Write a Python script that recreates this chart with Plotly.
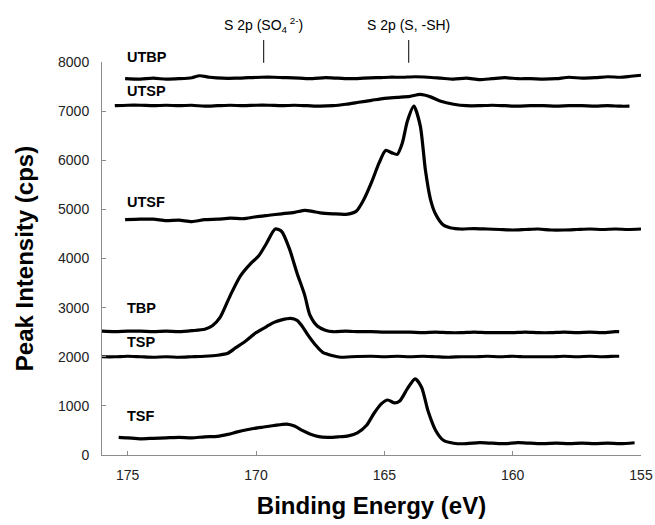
import plotly.graph_objects as go

# ---------------- data ----------------
utbp_x = [175.1, 174.5, 174.0, 173.5, 173.0, 172.5, 172.2, 171.8, 171.3, 170.8, 170.3, 169.8,
          169.3, 168.8, 168.3, 167.8, 167.3, 166.8, 166.3, 165.8, 165.3, 164.8, 164.3, 163.8,
          163.3, 162.8, 162.3, 161.8, 161.3, 160.8, 160.3, 159.8, 159.3, 158.8, 158.3, 157.8,
          157.3, 156.8, 156.3, 155.8, 155.4, 155.0]
utbp_y = [7660, 7650, 7670, 7650, 7660, 7680, 7720, 7690, 7670, 7670, 7680, 7690,
          7690, 7680, 7670, 7660, 7680, 7670, 7660, 7670, 7680, 7690, 7690, 7700,
          7690, 7670, 7650, 7670, 7640, 7660, 7680, 7660, 7660, 7650, 7660, 7690,
          7670, 7680, 7700, 7690, 7710, 7730]

utsp_x = [175.5, 175.0, 174.5, 174.0, 173.5, 173.0, 172.5, 172.0, 171.5, 171.0, 170.5, 170.0,
          169.5, 169.0, 168.5, 168.0, 167.5, 167.0, 166.5, 166.0, 165.5, 165.0, 164.5, 164.0,
          163.6, 163.2, 162.8, 162.3, 161.8, 161.3, 160.8, 160.3, 159.8, 159.3, 158.8, 158.3,
          157.8, 157.3, 156.8, 156.3, 155.8, 155.45]
utsp_y = [7110, 7120, 7120, 7110, 7120, 7110, 7120, 7100, 7110, 7120, 7110, 7120,
          7120, 7110, 7120, 7110, 7100, 7110, 7140, 7180, 7220, 7260, 7280, 7300,
          7340, 7290, 7200, 7140, 7110, 7110, 7120, 7110, 7100, 7110, 7110, 7100,
          7110, 7110, 7100, 7110, 7100, 7100]

utsf_x = [175.1, 174.5, 174.0, 173.5, 173.0, 172.5, 172.0, 171.5, 171.0, 170.5, 170.0, 169.5,
          169.0, 168.5, 168.1, 167.8, 167.5, 167.0, 166.5, 166.1, 165.8, 165.5, 165.2, 164.95,
          164.7, 164.5, 164.3, 164.1, 163.85, 163.6, 163.4, 163.2, 163.0, 162.7, 162.4, 162.0,
          161.5, 161.0, 160.5, 160.0, 159.5, 159.0, 158.5, 158.0, 157.5, 157.0, 156.5, 156.0,
          155.5, 155.0]
utsf_y = [4790, 4800, 4800, 4770, 4780, 4750, 4790, 4800, 4820, 4810, 4850, 4880,
          4910, 4940, 4980, 4960, 4930, 4910, 4900, 4960, 5200, 5550, 5950, 6200,
          6150, 6120, 6350, 6800, 7100, 6700, 5800, 5200, 4900, 4680, 4620, 4600,
          4610, 4600, 4590, 4580, 4590, 4600, 4580, 4580, 4590, 4600, 4590, 4600,
          4590, 4600]

tbp_x = [176.0, 175.5, 175.0, 174.5, 174.0, 173.5, 173.0, 172.5, 172.0, 171.7, 171.4, 171.0,
         170.6, 170.2, 169.9, 169.6, 169.25, 169.0, 168.7, 168.4, 168.1, 167.9, 167.6, 167.3,
         167.0, 166.5, 166.0, 165.5, 165.0, 164.5, 164.0, 163.5, 163.0, 162.5, 162.0, 161.5,
         161.0, 160.5, 160.0, 159.5, 159.0, 158.5, 158.0, 157.5, 157.0, 156.5, 156.0, 155.85]
tbp_y = [2520, 2510, 2520, 2520, 2510, 2520, 2510, 2530, 2560, 2630, 2800, 3250,
         3650, 3900, 4050, 4300, 4600, 4550, 4200, 3700, 3250, 2850, 2620, 2540,
         2510, 2520, 2510, 2510, 2500, 2500, 2500, 2490, 2500, 2490, 2490, 2500,
         2490, 2490, 2490, 2500, 2490, 2490, 2500, 2490, 2500, 2490, 2510, 2510]

tsp_x = [176.0, 175.5, 175.0, 174.5, 174.0, 173.5, 173.0, 172.5, 172.0, 171.5, 171.1, 170.8,
         170.4, 170.0, 169.6, 169.3, 169.0, 168.65, 168.4, 168.2, 168.0, 167.7, 167.4, 167.0,
         166.7, 166.3, 165.5, 165.0, 164.5, 164.0, 163.5, 163.0, 162.5, 162.0, 161.5, 161.0,
         160.5, 160.0, 159.5, 159.0, 158.5, 158.0, 157.5, 157.0, 156.5, 156.0, 155.85]
tsp_y = [2000, 2000, 2010, 2000, 1990, 2000, 1990, 2000, 2010, 2030, 2070, 2180,
         2320, 2490, 2610, 2700, 2750, 2780, 2740, 2620, 2460, 2250, 2090, 2020,
         1990, 2000, 2010, 2000, 2010, 2000, 2010, 2000, 1990, 2000, 2000, 2010,
         2000, 2010, 2000, 2000, 2000, 2010, 2000, 2010, 2000, 2010, 2010]

tsf_x = [175.35, 175.0, 174.5, 174.0, 173.5, 173.0, 172.5, 172.0, 171.5, 171.1, 170.8, 170.5,
         170.1, 169.7, 169.3, 168.8, 168.5, 168.2, 167.9, 167.6, 167.2, 166.8, 166.4, 166.05,
         165.7, 165.4, 165.1, 164.87, 164.6, 164.4, 164.1, 163.8, 163.55, 163.3, 163.0, 162.7,
         162.3, 161.8, 161.3, 160.8, 160.3, 159.8, 159.3, 158.8, 158.3, 157.8, 157.3, 156.8,
         156.3, 155.8, 155.25]
tsf_y = [360, 350, 330, 340, 350, 360, 350, 370, 380, 420, 460, 500,
         540, 570, 600, 630, 590, 500, 430, 380, 360, 370, 390, 450,
         600, 850, 1050, 1120, 1060, 1100, 1350, 1550, 1380, 900, 500, 300,
         240, 230, 250, 240, 230, 250, 240, 230, 240, 230, 240, 230,
         240, 230, 250]

series_names = ["UTBP", "UTSP", "UTSF", "TBP", "TSP", "TSF"]
series_x = [utbp_x, utsp_x, utsf_x, tbp_x, tsp_x, tsf_x]
series_y = [utbp_y, utsp_y, utsf_y, tbp_y, tsp_y, tsf_y]
label_y = [8100, 7400, 5140, 3000, 2300, 800]
label_x = 175.1

peak_labels = ["S 2p (SO<sub>4</sub><sup> 2-</sup>)", "S 2p (S, -SH)"]
peak_pos = [169.7, 164.05]

x_ticks = [175, 170, 165, 160, 155]
y_ticks = [0, 1000, 2000, 3000, 4000, 5000, 6000, 7000, 8000]
x_range = [176, 155]
y_range = [0, 8000]

FONT = "Arial, Liberation Sans, sans-serif"

fig = go.Figure()
for name, xs, ys in zip(series_names, series_x, series_y):
    fig.add_trace(go.Scatter(x=xs, y=ys, mode="lines", name=name,
                             line=dict(color="black", width=3.2, shape="spline", smoothing=0.7)))

annotations = []
for name, ly in zip(series_names, label_y):
    annotations.append(dict(x=label_x, y=ly / y_range[1], xref="x", yref="paper",
                            text="<b>%s</b>" % name,
                            showarrow=False, xanchor="left", yanchor="middle",
                            font=dict(family=FONT, size=14.5, color="black")))
shapes = []
for lab, px in zip(peak_labels, peak_pos):
    annotations.append(dict(x=px, y=1.094, xref="x", yref="paper", text=lab, showarrow=False,
                            xanchor="center", yanchor="middle",
                            font=dict(family=FONT, size=14, color="black")))
    shapes.append(dict(type="line", xref="x", yref="paper", x0=px, x1=px, y0=0.998, y1=1.056,
                       line=dict(color="black", width=1)))

fig.update_layout(
    width=655, height=525,
    margin=dict(l=102, r=14, t=62, b=70),
    paper_bgcolor="white", plot_bgcolor="white",
    showlegend=False,
    annotations=annotations, shapes=shapes,
    font=dict(family=FONT, color="black"),
)
fig.update_xaxes(range=x_range, tickvals=x_ticks, ticks="inside", ticklen=4, tickcolor="#8c8c8c",
                 showline=True, linecolor="#8c8c8c", linewidth=1, showgrid=False, zeroline=False,
                 ticklabelstandoff=7, automargin=False,
                 tickfont=dict(family=FONT, size=14, color="#222"),
                 title=dict(text="<b>Binding Energy (eV)</b>", font=dict(family=FONT, size=24, color="black"),
                            standoff=15))
fig.update_yaxes(range=y_range, tickvals=y_ticks, ticks="inside", ticklen=4, tickcolor="#8c8c8c",
                 showline=True, linecolor="#8c8c8c", linewidth=1, showgrid=False, zeroline=False,
                 ticklabelstandoff=9, automargin=False,
                 tickfont=dict(family=FONT, size=14, color="#222"),
                 title=dict(text="<b>Peak Intensity (cps)</b>", font=dict(family=FONT, size=24, color="black"),
                            standoff=17))

fig.write_html("out.html")
